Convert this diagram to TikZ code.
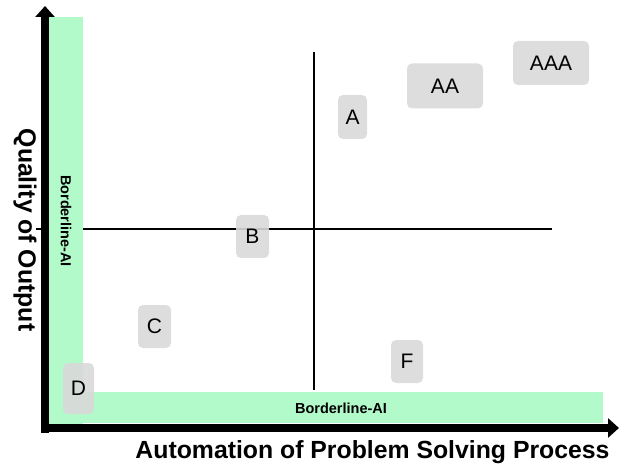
\documentclass[tikz,border=0pt]{standalone}
\usepackage{fontspec}
\setmainfont{Liberation Sans}
\usepackage{xcolor}
\usetikzlibrary{arrows.meta}

\definecolor{bandgreen}{RGB}{178,250,202}
\definecolor{gradegray}{RGB}{217,217,217}

\tikzset{
  axis/.style={line width=8.5pt, -{Triangle[length=11pt,width=19pt]}},
  split/.style={line width=1.6pt},
  grade/.style={fill=gradegray, fill opacity=0.9, text opacity=1, rounded corners=5pt,
    inner sep=0pt, font=\fontsize{21}{21}\selectfont},
  axislabel/.style={font=\bfseries\fontsize{24.8}{24.8}\selectfont},
  border/.style={font=\bfseries\fontsize{14.5}{14.5}\selectfont}
}

\begin{document}
\begin{tikzpicture}[x=1pt, y=-1pt]
  \useasboundingbox (0,0) rectangle (624,465);

  % Borderline-AI bands
  \fill[bandgreen] (49,17) rectangle (83,424);
  \fill[bandgreen] (49,392) rectangle (603,423);
  \node[border, rotate=-90] (borderY) at (66,221) {Borderline-AI};
  \node[border] (borderX) at (341,408) {Borderline-AI};

  % axes
  \draw[axis] (45,432.5) -- (45,6);
  \draw[axis] (41,428) -- (619,428);
  \node[axislabel] (xlabel) at (372.5,452) {Automation of Problem Solving Process};
  \node[axislabel, rotate=-90] (ylabel) at (25,230) {Quality of Output};

  % quadrants
  \draw[split] (36,229) -- (45,229);
  \draw[split] (83,229) -- (552,229);
  \draw[split] (314,52) -- (314,390);

  % grades
  \node[grade, minimum width=29pt, minimum height=44pt] (gradeA) at (352.5,117) {A};
  \node[grade, minimum width=76pt, minimum height=45pt] (gradeAA) at (445,86) {AA};
  \node[grade, minimum width=76pt, minimum height=44pt] (gradeAAA) at (551,63) {AAA};
  \node[grade, minimum width=33pt, minimum height=43pt] (gradeB) at (252.5,236.5) {B};
  \node[grade, minimum width=33pt, minimum height=43pt] (gradeC) at (154.5,326.5) {C};
  \node[grade, minimum width=31pt, minimum height=51pt] (gradeD) at (78.5,388.5) {D};
  \node[grade, minimum width=32pt, minimum height=43pt] (gradeF) at (407,361.5) {F};
\end{tikzpicture}
\end{document}
